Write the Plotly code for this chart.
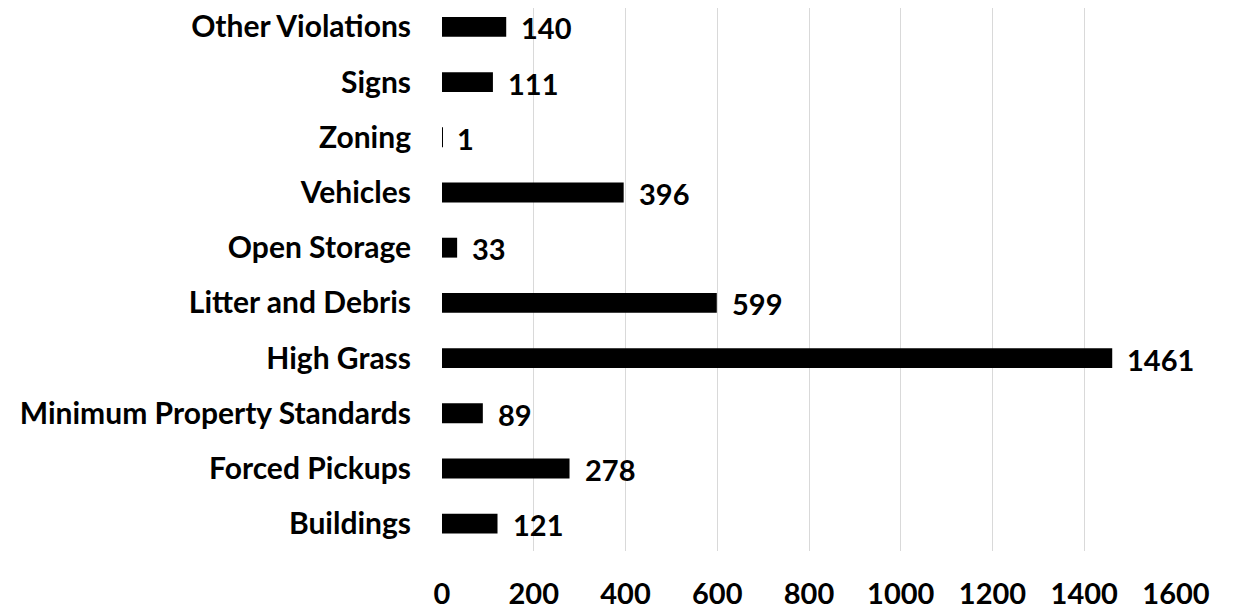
import plotly.graph_objects as go

categories = ["Buildings", "Forced Pickups", "Minimum Property Standards", "High Grass",
              "Litter and Debris", "Open Storage", "Vehicles", "Zoning", "Signs", "Other Violations"]
values = [121, 278, 89, 1461, 599, 33, 396, 1, 111, 140]
x_ticks = [0, 200, 400, 600, 800, 1000, 1200, 1400, 1600]

FONT = "Lato"
FS = 29

fig = go.Figure()
fig.add_trace(go.Bar(
    y=categories, x=values, orientation="h",
    marker=dict(color="black", line=dict(width=0)),
    width=0.36,
    hoverinfo="skip",
))

for c, v in zip(categories, values):
    fig.add_annotation(x=v, y=c, text=f"<b>{v}</b>", showarrow=False,
                       xanchor="left", xshift=13, yshift=-1,
                       font=dict(family=FONT, size=FS, color="black"))

fig.update_layout(
    width=1227, height=602,
    margin=dict(l=434, r=59, t=0, b=55),
    plot_bgcolor="white", paper_bgcolor="white",
    showlegend=False,
    font=dict(family=FONT, size=FS, color="black"),
)
fig.update_xaxes(
    range=[0, 1600], tickvals=x_ticks, ticktext=[f"<b>{t}</b>" for t in x_ticks],
    showgrid=True, gridcolor="#d9d9d9", gridwidth=1,
    zeroline=False, showline=False, ticks="",
    ticklabelstandoff=23,
    tickfont=dict(family=FONT, size=FS, color="black"),
)
fig.update_yaxes(
    categoryorder="array", categoryarray=categories,
    range=[-0.495, 9.342],
    tickvals=categories, ticktext=[f"<b>{c}</b>" for c in categories],
    showgrid=False, zeroline=False, showline=False, ticks="",
    ticklabelstandoff=30,
    tickfont=dict(family=FONT, size=30, color="black"),
)

fig.write_html("out.html")
